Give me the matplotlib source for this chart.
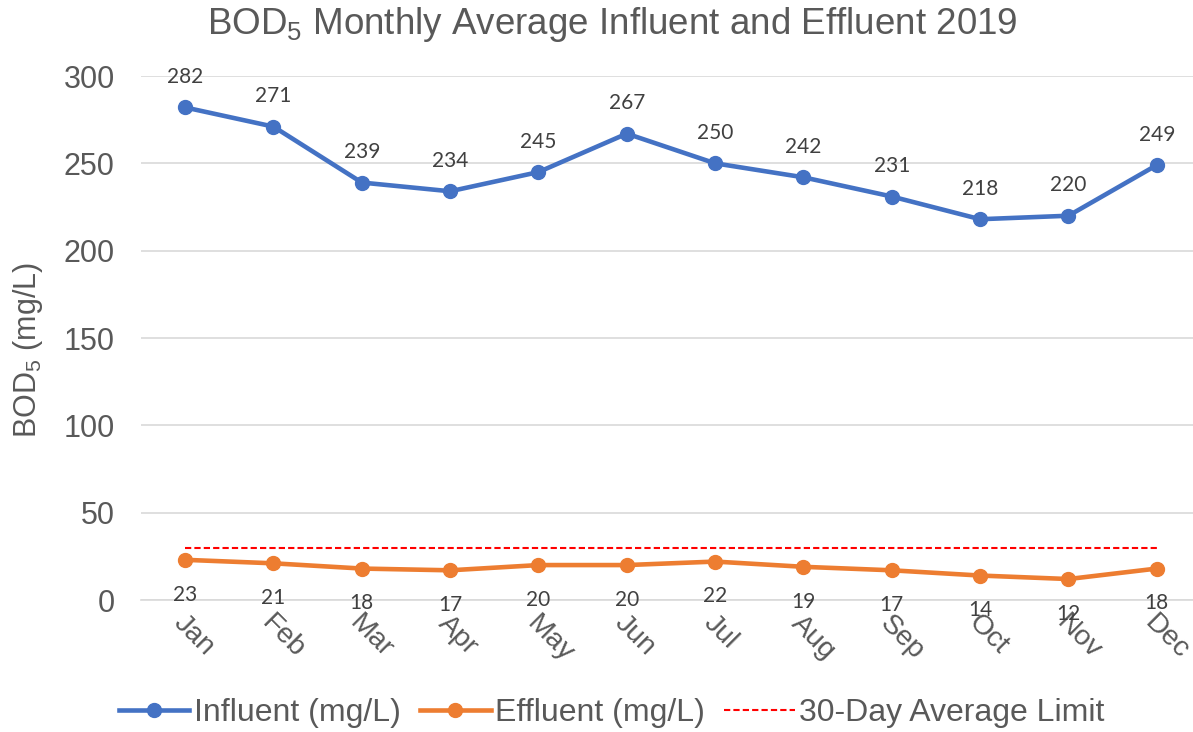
import matplotlib
matplotlib.use("Agg")
import matplotlib.pyplot as plt
from matplotlib.transforms import ScaledTranslation

months = ["Jan", "Feb", "Mar", "Apr", "May", "Jun", "Jul", "Aug", "Sep", "Oct", "Nov", "Dec"]
influent = [282, 271, 239, 234, 245, 267, 250, 242, 231, 218, 220, 249]
effluent = [23, 21, 18, 17, 20, 20, 22, 19, 17, 14, 12, 18]
limit = [30] * 12
yticks = [0, 50, 100, 150, 200, 250, 300]

plt.rcParams['font.family'] = ['Liberation Sans', 'DejaVu Sans']
plt.rcParams['mathtext.fontset'] = 'custom'
plt.rcParams['mathtext.rm'] = 'Liberation Sans'
plt.rcParams['mathtext.it'] = 'Liberation Sans:italic'

GRAY = '#595959'
fig = plt.figure(figsize=(11.93, 7.32), dpi=100)
ax = fig.add_axes([141/1193, 1 - 600/732, 1 - 141/1193, (600 - 76)/732])

x = list(range(len(months)))
ax.plot(x, influent, color='#4472C4', lw=3.3, marker='o', ms=10, label='Influent (mg/L)', zorder=3)
ax.plot(x, effluent, color='#ED7D31', lw=3.3, marker='o', ms=10, label='Effluent (mg/L)', zorder=3)
ax.plot(x, limit, color='#FF0000', lw=1.5, ls=(0, (3, 1.5)), label='30-Day Average Limit', zorder=2)

for xi, v in zip(x, influent):
    ax.annotate(str(v), (xi, v), xytext=(0, 22), textcoords='offset points',
                ha='center', va='center', fontsize=15, color='#404040', family=['Lato', 'DejaVu Sans'])
for xi, v in zip(x, effluent):
    ax.annotate(str(v), (xi, v), xytext=(0, -25), textcoords='offset points',
                ha='center', va='center', fontsize=15, color='#404040', family=['Lato', 'DejaVu Sans'])

ax.set_xlim(-0.5, 11.41)
ax.set_ylim(0, 300)
ax.set_yticks(yticks)
ax.set_yticklabels([str(t) for t in yticks], fontsize=22, color=GRAY)
ax.set_xticks(x)
ax.set_xticklabels(months, fontsize=20.5, color=GRAY, rotation=-45, ha='left', va='center',
                   rotation_mode='anchor')
ax.tick_params(axis='both', length=0)
ax.tick_params(axis='x', pad=14)
ax.tick_params(axis='y', pad=19)
ax.grid(axis='y', color='#D9D9D9', lw=1.2)
ax.set_axisbelow(True)
for s in ['top', 'right', 'left']:
    ax.spines[s].set_visible(False)
ax.spines['bottom'].set_color('#D9D9D9')
ax.spines['bottom'].set_linewidth(1.2)
shift = ScaledTranslation(-8/100, 0, fig.dpi_scale_trans)
for lbl in ax.get_xticklabels():
    lbl.set_transform(lbl.get_transform() + shift)

fig.text(28/1193, 1 - 350/732, 'BOD$_5$ (mg/L)', rotation=90, ha='center', va='center',
         fontsize=22, color=GRAY)
fig.text(612/1193, 1 - 25/732, 'BOD$_5$ Monthly Average Influent and Effluent 2019',
         ha='center', va='center', fontsize=26.5, color=GRAY)

leg = fig.legend(loc='center', bbox_to_anchor=(612/1193, 1 - 713/732), ncol=3, frameon=False,
                 fontsize=23, handlelength=2.2, handletextpad=0.15, columnspacing=0.6)
for t in leg.get_texts():
    t.set_color(GRAY)

fig.savefig('out.png', dpi=100)
